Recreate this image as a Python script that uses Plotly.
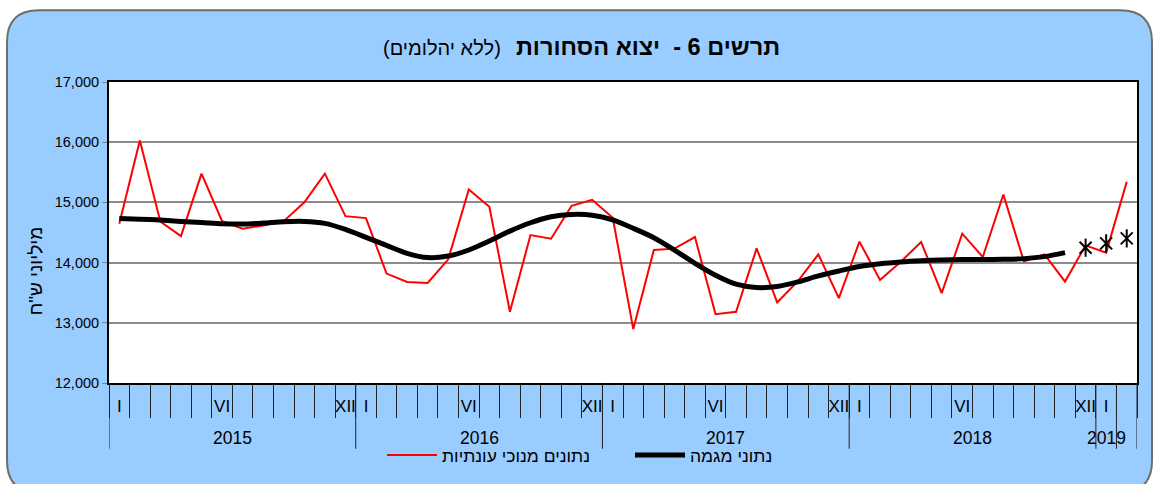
import plotly.graph_objects as go

# ---------------- data ----------------
years = ["2015"] * 12 + ["2016"] * 12 + ["2017"] * 12 + ["2018"] * 12 + ["2019"] * 2
month_ticks = (["I", "", "", "", "", "VI", "", "", "", "", "", "XII"] * 4) + ["I", ""]

seasonally_adjusted = [
    14646, 16030, 14680, 14440, 15478, 14689, 14563, 14617, 14689, 15003, 15478, 14772,
    14739, 13818, 13679, 13662, 14055, 15214, 14927, 13182, 14457, 14397, 14944, 15043,
    14745, 12896, 14209, 14232, 14424, 13144, 13182, 14237, 13338, 13690, 14137, 13409,
    14348, 13712, 14010, 14342, 13492, 14480, 14093, 15131, 14017, 14137, 13685, 14286,
    14166, 15341,
]
trend = [
    14733, 14722, 14706, 14684, 14667, 14646, 14640, 14656, 14679, 14684, 14651, 14551,
    14420, 14286, 14154, 14083, 14110, 14209, 14358, 14523, 14662, 14762, 14800, 14788,
    14710, 14570, 14414, 14209, 13988, 13790, 13641, 13586, 13603, 13679, 13779, 13861,
    13934, 13980, 14010, 14030, 14044, 14050, 14050, 14055, 14066, 14099, 14165,
]
prelim_trend_idx = [47, 48, 49]
prelim_trend = [14248, 14320, 14402]

title_bold = "תרשים 6 -  יצוא הסחורות"
title_note = "(ללא יהלומים)"
y_title = 'מיליוני ש"ח'
name_sa = "נתונים מנוכי עונתיות"
name_trend = "נתוני מגמה"

# ---------------- layout helpers ----------------
W, H = 1156, 484
ML, MR, MT, MB = 109, 19, 82, 100
PW, PH = W - ML - MR, H - MT - MB
FONT = "Arial, 'Liberation Sans', 'DejaVu Sans', sans-serif"


def fx(px):
    return (px - ML) / PW


def fy(py):
    return (H - MB - py) / PH


n = len(years)
x = list(range(n))

fig = go.Figure()
fig.add_trace(go.Scatter(
    x=x, y=seasonally_adjusted, mode="lines", name=name_sa,
    line=dict(color="#FF0000", width=2),
))
fig.add_trace(go.Scatter(
    x=x[:len(trend)], y=trend, mode="lines", name=name_trend,
    line=dict(color="#000000", width=5, shape="spline", smoothing=0.8),
))
# Excel-style star marker: an X with a vertical bar through it
fig.add_trace(go.Scatter(
    x=prelim_trend_idx, y=prelim_trend, mode="markers", showlegend=False,
    marker=dict(symbol="x-thin-open", size=12, color="black",
                line=dict(color="black", width=2)),
))
fig.add_trace(go.Scatter(
    x=prelim_trend_idx, y=prelim_trend, mode="markers", showlegend=False,
    marker=dict(symbol="line-ns-open", size=13, color="black",
                line=dict(color="black", width=2)),
))

# background rounded panel + white plot area
l, r, t, b, rad = 7, 1152, 10, 494, 32
path = (
    f"M{fx(l + rad)},{fy(t)} L{fx(r - rad)},{fy(t)} Q{fx(r)},{fy(t)} {fx(r)},{fy(t + rad)} "
    f"L{fx(r)},{fy(b - rad)} Q{fx(r)},{fy(b)} {fx(r - rad)},{fy(b)} "
    f"L{fx(l + rad)},{fy(b)} Q{fx(l)},{fy(b)} {fx(l)},{fy(b - rad)} "
    f"L{fx(l)},{fy(t + rad)} Q{fx(l)},{fy(t)} {fx(l + rad)},{fy(t)} Z"
)
shapes = [
    dict(type="path", path=path, xref="paper", yref="paper", layer="below",
         fillcolor="#99CCFF", line=dict(color="#6E6E6E", width=2)),
    dict(type="rect", xref="paper", yref="paper", x0=0, x1=1, y0=0, y1=1,
         layer="below", fillcolor="white", line=dict(width=0)),
]

# long divider lines between years (and inside the short final year)
dividers = [-0.5]
for i in range(1, n):
    if years[i] != years[i - 1] or years[i] == years[-1]:
        dividers.append(i - 0.5)
dividers.append(n - 0.5)
for d in dividers:
    shapes.append(dict(type="line", xref="x", yref="paper", x0=d, x1=d,
                       y0=0, y1=fy(450), line=dict(color="#222222", width=1)))

annotations = [
    dict(text=f"<b>{title_bold}</b>", xref="paper", yref="paper", x=fx(782), y=fy(47),
         xanchor="right", yanchor="middle", showarrow=False,
         font=dict(family=FONT, size=23.5, color="black")),
    dict(text=title_note, xref="paper", yref="paper", x=fx(503), y=fy(48),
         xanchor="right", yanchor="middle", showarrow=False,
         font=dict(family=FONT, size=20, color="black")),
    # y-axis title (placed below the axis centre, as in the original)
    dict(text=y_title, xref="paper", yref="paper", x=fx(35), y=fy(272),
         xanchor="center", yanchor="middle", showarrow=False, textangle=-90,
         font=dict(family=FONT, size=19, color="black")),
]
# year labels centered on their months
uniq_years = []
for yv in years:
    if yv not in uniq_years:
        uniq_years.append(yv)
for yv in uniq_years:
    idx = [i for i, v in enumerate(years) if v == yv]
    c = sum(idx) / len(idx)
    annotations.append(dict(text=yv, xref="x", yref="paper", x=c, y=fy(439),
                            xanchor="center", yanchor="middle", showarrow=False,
                            xshift=-10 if len(idx) < 12 else 0,
                            font=dict(family=FONT, size=17.5, color="black")))

fig.update_layout(
    width=W, height=H, autosize=False,
    margin=dict(l=ML, r=MR, t=MT, b=MB),
    paper_bgcolor="white", plot_bgcolor="white",
    font=dict(family=FONT, color="black"),
    shapes=shapes, annotations=annotations,
    showlegend=True,
    legend=dict(orientation="h", x=fx(382), y=fy(455), xanchor="left", yanchor="middle",
                bgcolor="rgba(0,0,0,0)", font=dict(family=FONT, size=17.5, color="black"),
                itemwidth=50, entrywidth=183, entrywidthmode="pixels"),
    xaxis=dict(range=[-0.5, n - 0.5], tickmode="array", tickvals=x, ticktext=month_ticks,
               ticks="", showgrid=False, zeroline=False, ticklabelstandoff=7,
               showline=True, linecolor="black", linewidth=2, mirror=True,
               tickfont=dict(family=FONT, size=17, color="black"),
               minor=dict(tickmode="array", tickvals=[i - 0.5 for i in range(n + 1)],
                          ticks="outside", ticklen=33, tickwidth=1, tickcolor="#222222",
                          showgrid=False)),
    yaxis=dict(range=[12000, 17000], dtick=1000, tick0=12000, tickformat=",",
               showgrid=True, gridcolor="#8C8C8C", gridwidth=1.5, zeroline=False,
               ticks="outside", ticklen=5, tickcolor="#808080",
               showline=True, linecolor="black", linewidth=2, mirror=True,
               tickfont=dict(family=FONT, size=14.5, color="black")),
)

fig.write_html("out.html", config={"displayModeBar": False},
               post_script="document.body.style.margin='0px';")
